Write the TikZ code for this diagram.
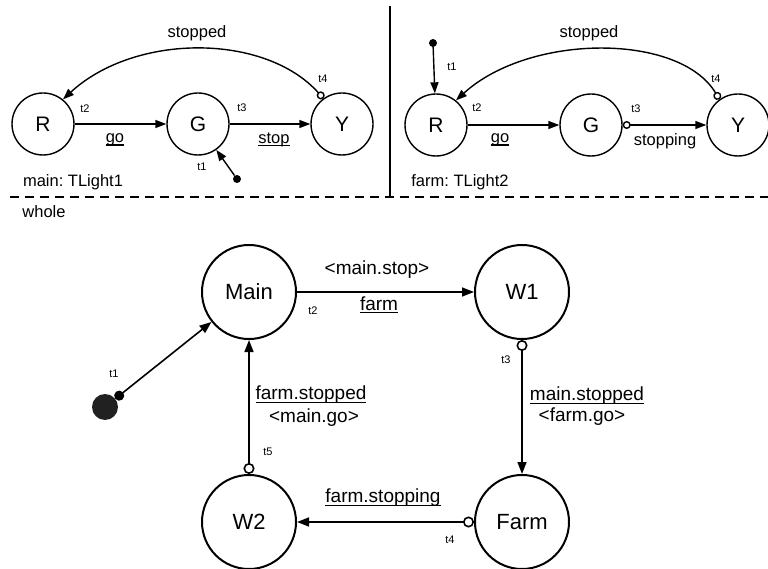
\documentclass[tikz,border=0pt]{standalone}
\usepackage{fontspec}
\setmainfont{Liberation Sans}
\usetikzlibrary{arrows.meta}
\frenchspacing
% underline at a fixed depth, crossing descenders
\newsavebox\ulbox
\newcommand\uln[1]{\sbox\ulbox{#1}\rlap{\rule[-0.17em]{\wd\ulbox}{0.065em}}\usebox\ulbox}

\begin{document}
\begin{tikzpicture}[x=1pt,y=-1pt,
  smallstate/.style={circle,draw,line width=1.4pt,minimum size=62pt,inner sep=0pt,font=\fontsize{21}{24}\selectfont},
  bigstate/.style={circle,draw,line width=2pt,minimum size=94pt,inner sep=0pt,font=\fontsize{22}{26}\selectfont},
  lbl/.style={inner sep=0pt,font=\fontsize{16.5}{19}\selectfont},
  blbl/.style={inner sep=0pt,font=\fontsize{19}{22}\selectfont},
  tlbl/.style={inner sep=0pt,font=\fontsize{11}{13}\selectfont},
  dotnode/.style={circle,fill,inner sep=0pt,minimum size=8pt},
  arr/.style={line width=1.4pt,-{Triangle[length=11pt,width=8pt]}},
  oarr/.style={line width=1.4pt,{Circle[open,length=8pt]}-{Triangle[length=11pt,width=8pt]}},
  barr/.style={line width=1.6pt,-{Triangle[length=12pt,width=9pt]}},
  boarr/.style={line width=1.6pt,{Circle[open,length=11pt]}-{Triangle[length=12pt,width=9pt]}},
]
\useasboundingbox (0,0) rectangle (768,569);

% ---------- main: TLight1 ----------
\node[smallstate] (R1) at (43,124) {R};
\node[smallstate] (G1) at (198,124) {G};
\node[smallstate] (Y1) at (342,124) {Y};
\node[dotnode] (i1) at (237,179) {};
\draw[arr] (R1) -- (G1);
\draw[arr] (G1) -- (Y1);
\draw[arr] (i1) -- (G1);
\draw[oarr] (Y1.126) .. controls (265,33) and (135,33) .. (R1.51);
\node[lbl] (l1stopped) at (197,33) {stopped};
\node[lbl] (l1go) at (115,140) {\uln{go}};
\node[lbl] (l1stop) at (274,140) {\uln{stop}};
\node[tlbl] (l1t1) at (202,167) {t1};
\node[tlbl] (l1t2) at (85,109) {t2};
\node[tlbl] (l1t3) at (242,108) {t3};
\node[tlbl] (l1t4) at (323,79) {t4};
\node[lbl] (l1name) at (73,182) {main: TLight1};

% ---------- farm: TLight2 ----------
\node[smallstate] (R2) at (436,125) {R};
\node[smallstate] (G2) at (591,125) {G};
\node[smallstate] (Y2) at (738,125) {Y};
\node[dotnode] (i2) at (433,43) {};
\draw[arr] (i2) -- (R2);
\draw[arr] (R2) -- (G2);
\draw[oarr] (G2) -- (Y2);
\draw[oarr] (Y2.126) .. controls (680,33) and (530,33) .. (R2.51);
\node[lbl] (l2stopped) at (589,33) {stopped};
\node[lbl] (l2go) at (500,140) {\uln{go}};
\node[lbl] (l2stopping) at (665,141) {stopping};
\node[tlbl] (l2t1) at (452,67) {t1};
\node[tlbl] (l2t2) at (477,108) {t2};
\node[tlbl] (l2t3) at (636,109) {t3};
\node[tlbl] (l2t4) at (716,79) {t4};
\node[lbl] (l2name) at (460,182) {farm: TLight2};

% ---------- separators ----------
\coordinate (vtop) at (390,6);
\coordinate (vbot) at (390,197);
\coordinate (hl) at (10,197);
\coordinate (hr) at (768,197);
\draw[line width=1.3pt] (vtop) -- (vbot);
\draw[line width=1.3pt,dash pattern=on 9pt off 6pt] (hl) -- (hr);
\node[lbl] (lwhole) at (44,212) {whole};

% ---------- whole ----------
\node[bigstate] (Main) at (249,292) {Main};
\node[bigstate] (W1) at (522,292) {W1};
\node[bigstate] (Farm) at (522,522) {Farm};
\node[bigstate] (W2) at (249,522) {W2};
\node[circle,fill=black!87,inner sep=0pt,minimum size=26pt] (s0) at (105,407) {};
\draw[line width=1.6pt,{Circle[length=10pt]}-{Triangle[length=12pt,width=9pt]}] (s0) -- (Main);
\draw[barr] (Main) -- (W1);
\draw[boarr] (W1) -- (Farm);
\draw[boarr] (Farm) -- (W2);
\draw[boarr] (W2) -- (Main);

\node[tlbl] (bt1) at (114,374) {t1};
\node[blbl] (bmainstop) at (377,270) {<main.stop>};
\node[blbl] (bfarm) at (379,305) {\uln{farm}};
\node[tlbl] (bt2) at (313,311) {t2};
\node[tlbl] (bt3) at (506,360) {t3};
\node[blbl] (bmainstopped) at (587,396) {\uln{main.stopped}};
\node[blbl] (bfarmgo) at (582,417) {<farm.go>};
\node[blbl] (bfarmstopping) at (383,498) {\uln{farm.stopping}};
\node[tlbl] (bt4) at (450,540) {t4};
\node[tlbl] (bt5) at (268,452) {t5};
\node[blbl] (bfarmstopped) at (311,395) {\uln{farm.stopped}};
\node[blbl] (bmaingo) at (314,418) {<main.go>};
\end{tikzpicture}
\end{document}
